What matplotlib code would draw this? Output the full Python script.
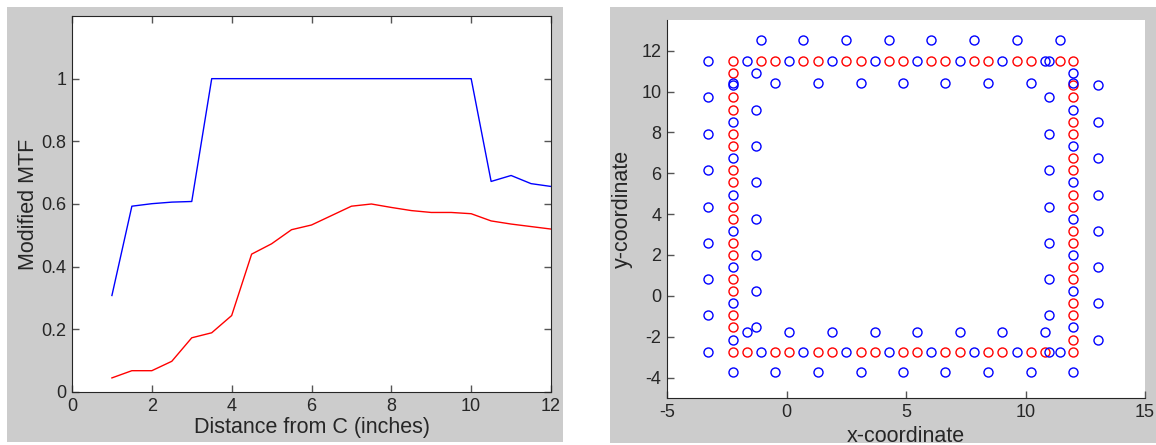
import numpy as np
import matplotlib
matplotlib.use('Agg')
import matplotlib.pyplot as plt
from matplotlib.patches import Rectangle

plt.rcParams['font.family'] = ['Liberation Sans', 'DejaVu Sans']
plt.rcParams['axes.unicode_minus'] = False

# left panel: modified MTF against distance
dist = [1, 1.5, 2, 2.5, 3, 3.5, 4, 4.5, 5, 5.5, 6, 6.5, 7, 7.5, 8, 8.5,
        9, 9.5, 10, 10.5, 11, 11.5, 12]
mtf_blue = [0.308, 0.593, 0.601, 0.606, 0.608, 1.0, 1.0, 1.0, 1.0, 1.0, 1.0, 1.0,
            1.0, 1.0, 1.0, 1.0, 1.0, 1.0, 1.0, 0.672, 0.691, 0.665, 0.656]
mtf_red = [0.045, 0.068, 0.068, 0.098, 0.173, 0.189, 0.244, 0.440, 0.473, 0.518,
           0.533, 0.563, 0.593, 0.600, 0.589, 0.579, 0.573, 0.573, 0.569, 0.546,
           0.536, 0.528, 0.520]

# right panel: sensor positions
red_x = ([-2.25, -1.07, -0.47, 0.71, 1.30, 2.49, 3.10, 4.28, 4.88, 6.06, 6.64,
          7.84, 8.45, 9.64, 10.23, 11.43, 12.0] +
         [-2.25, -1.66, -0.47, 0.12, 1.30, 1.90, 3.10, 3.69, 4.88, 5.47, 6.64,
          7.25, 8.45, 9.03, 10.23, 10.81, 12.0] +
         [-2.25] * 15 + [12.0] * 15)
red_y = ([11.5] * 17 + [-2.74] * 17 +
         [10.92, 9.72, 9.11, 7.94, 7.32, 6.14, 5.55, 4.37, 3.76, 2.57, 2.02, 0.83,
          0.24, -0.94, -1.54] +
         [10.31, 9.72, 8.53, 7.94, 6.74, 6.14, 4.95, 4.37, 3.16, 2.57, 1.43, 0.83,
          -0.35, -0.94, -2.15])

blue_x = ([-1.66, 0.12, 1.90, 3.69, 5.47, 7.25, 9.03, 10.81] +        # top, on line
          [-1.07, 0.71, 2.49, 4.28, 6.06, 7.84, 9.64, 11.43] +        # bottom, on line
          [-2.25] * 8 + [12.0] * 8 +                                  # sides, on line
          [-1.07, 0.71, 2.49, 4.28, 6.06, 7.84, 9.64, 11.43] +        # top outer
          [-2.25, -0.47, 1.30, 3.10, 4.88, 6.64, 8.45, 10.23, 12.0] + # top inner
          [-1.66, 0.12, 1.90, 3.69, 5.47, 7.25, 9.03, 10.81] +        # bottom inner
          [-2.25, -0.47, 1.30, 3.10, 4.88, 6.64, 8.45, 10.23, 12.0] + # bottom outer
          [-3.28] * 9 + [10.99] * 9 + [-1.27] * 8 + [13.02] * 8)
blue_y = ([11.5] * 8 + [-2.74] * 8 +
          [10.31, 8.53, 6.74, 4.95, 3.16, 1.43, -0.35, -2.15] +
          [10.92, 9.11, 7.32, 5.55, 3.76, 2.02, 0.24, -1.54] +
          [12.5] * 8 + [10.44] * 9 + [-1.76] * 8 + [-3.72] * 9 +
          [11.5, 9.72, 7.94, 6.14, 4.37, 2.57, 0.83, -0.94, -2.74] +
          [11.5, 9.72, 7.94, 6.14, 4.37, 2.57, 0.83, -0.94, -2.74] +
          [10.92, 9.11, 7.32, 5.55, 3.76, 2.02, 0.24, -1.54] +
          [10.31, 8.53, 6.74, 4.95, 3.16, 1.43, -0.35, -2.15])

W, H = 1156, 445
fig = plt.figure(figsize=(W / 100, H / 100), dpi=100)
fig.patch.set_facecolor('white')
gray = '#cccccc'
fig.patches.append(Rectangle((7 / W, 3 / H), 556 / W, 435 / H, transform=fig.transFigure,
                             facecolor=gray, edgecolor='none', zorder=-10))
fig.patches.append(Rectangle((610 / W, 2 / H), 546 / W, 436 / H, transform=fig.transFigure,
                             facecolor=gray, edgecolor='none', zorder=-10))

axcol = '#262626'

ax1 = fig.add_axes([72 / W, 53 / H, 479 / W, 376 / H])
ax1.plot(dist, mtf_blue, color='#0000ff', lw=1)
ax1.plot(dist, mtf_red, color='#ff0000', lw=1)
ax1.set_xlim(0, 12)
ax1.set_ylim(0, 1.2)
ax1.set_xticks(range(0, 13, 2))
ax1.set_yticks([0, 0.2, 0.4, 0.6, 0.8, 1.0])
ax1.set_yticklabels(['0', '0.2', '0.4', '0.6', '0.8', '1'])
ax1.tick_params(direction='in', top=True, right=True, length=5, width=1,
                color='#555555', labelsize=13, labelcolor=axcol, pad=4)
ax1.set_xlabel('Distance from C (inches)', fontsize=15.5, color=axcol, labelpad=2)
ax1.set_ylabel('Modified MTF', fontsize=15.5, color=axcol, labelpad=2)
for s in ax1.spines.values():
    s.set_color(axcol)

ax2 = fig.add_axes([667 / W, 47 / H, 478 / W, 378 / H])
ax2.plot(red_x, red_y, 'o', mfc='none', mec='#ff0000', ms=6.5, mew=1)
ax2.plot(blue_x, blue_y, 'o', mfc='none', mec='#0000ff', ms=6.5, mew=1)
ax2.set_xlim(-5, 15)
ax2.set_ylim(-5, 13.5)
ax2.set_xticks([-5, 0, 5, 10, 15])
ax2.set_yticks(range(-4, 13, 2))
ax2.spines['top'].set_visible(False)
ax2.spines['right'].set_visible(False)
ax2.tick_params(direction='in', length=5, width=1, color='#555555',
                labelsize=13, labelcolor=axcol, pad=4)
ax2.set_xlabel('x-coordinate', fontsize=15.5, color=axcol, labelpad=4)
ax2.set_ylabel('y-coordinate', fontsize=15.5, color=axcol, labelpad=6)
for s in ax2.spines.values():
    s.set_color(axcol)

fig.savefig('out.png', dpi=100, facecolor=fig.get_facecolor())
